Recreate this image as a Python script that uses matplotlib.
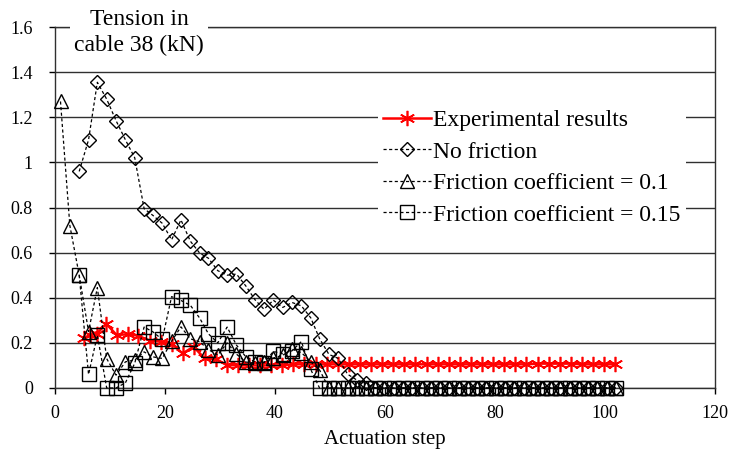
import matplotlib
matplotlib.use("Agg")
import matplotlib.pyplot as plt
from matplotlib.ticker import FuncFormatter

# ---- data ----
x_sim = [1.0, 2.7, 4.4, 6.1, 7.7, 9.4, 11.1, 12.8, 14.5, 16.2, 17.8, 19.5, 21.2, 22.9, 24.6,
         26.3, 27.9, 29.6, 31.3, 33.0, 34.7, 36.4, 38.0, 39.7, 41.4, 43.1, 44.8, 46.5, 48.1,
         49.8, 51.5, 53.2, 54.9, 56.6, 58.2, 59.9, 61.6, 63.3, 65.0, 66.7, 68.3, 70.0, 71.7,
         73.4, 75.1, 76.8, 78.4, 80.1, 81.8, 83.5, 85.2, 86.9, 88.5, 90.2, 91.9, 93.6, 95.3,
         97.0, 98.6, 100.3, 102.0]

no_friction = [0.96, 1.10, 1.355, 1.28, 1.185, 1.10, 1.02, 0.795, 0.765, 0.73, 0.657, 0.745,
               0.651, 0.598, 0.575, 0.52, 0.50, 0.505, 0.452, 0.39, 0.349, 0.389, 0.357, 0.379,
               0.364, 0.311, 0.219, 0.149, 0.131, 0.061, 0.035, 0.02,
               0.0, 0.0, 0.0, 0.0, 0.0, 0.0, 0.0, 0.0, 0.0, 0.0, 0.0, 0.0, 0.0, 0.0, 0.0,
               0.0, 0.0, 0.0, 0.0, 0.0, 0.0, 0.0, 0.0, 0.0, 0.0, 0.0, 0.0]  # from x_sim[2]

friction_01 = [1.27, 0.72, 0.50, 0.25, 0.445, 0.13, 0.057, 0.116, 0.124, 0.16, 0.138, 0.131,
               0.207, 0.271, 0.218, 0.205, 0.170, 0.146, 0.20, 0.15, 0.115, 0.11, 0.115, 0.133,
               0.145, 0.172, 0.157, 0.116, 0.08,
               0.0, 0.0, 0.0, 0.0, 0.0, 0.0, 0.0, 0.0, 0.0, 0.0, 0.0, 0.0, 0.0, 0.0, 0.0, 0.0,
               0.0, 0.0, 0.0, 0.0, 0.0, 0.0, 0.0, 0.0, 0.0, 0.0, 0.0, 0.0, 0.0, 0.0, 0.0, 0.0]  # from x_sim[0]

friction_015 = [0.50, 0.06, 0.234, 0.0, 0.0, 0.023, 0.11, 0.27, 0.249, 0.215, 0.405, 0.388,
                0.367, 0.31, 0.24, 0.20, 0.27, 0.19, 0.138, 0.115, 0.112, 0.162, 0.152, 0.165,
                0.206, 0.082,
                0.0, 0.0, 0.0, 0.0, 0.0, 0.0, 0.0, 0.0, 0.0, 0.0, 0.0, 0.0, 0.0, 0.0, 0.0, 0.0,
                0.0, 0.0, 0.0, 0.0, 0.0, 0.0, 0.0, 0.0, 0.0, 0.0, 0.0, 0.0, 0.0, 0.0, 0.0, 0.0,
                0.0]  # from x_sim[2]

x_exp = [5.2, 6.3, 7.6, 9.3, 11.2, 13.2, 15.1, 17.2, 19.3, 21.2, 23.2, 25.2, 27.2, 29.3, 31.2,
         33.2, 35.2, 37.3, 39.3, 41.3, 43.3, 45.3, 47.4, 49.4, 51.4, 53.4, 55.4, 57.5, 59.5,
         61.5, 63.5, 65.5, 67.6, 69.6, 71.6, 73.6, 75.6, 77.7, 79.7, 81.7, 83.7, 85.7, 87.8,
         89.8, 91.8, 93.8, 95.8, 97.9, 99.9, 101.9]
experimental = [0.22, 0.235, 0.24, 0.285, 0.235, 0.238, 0.232, 0.21, 0.205, 0.197, 0.153,
                0.183, 0.131, 0.128, 0.102,
                0.10, 0.10, 0.10, 0.10, 0.10, 0.105, 0.105, 0.105, 0.105, 0.105, 0.105, 0.105,
                0.105, 0.105, 0.105, 0.105, 0.105, 0.105, 0.105, 0.105, 0.105, 0.105, 0.105,
                0.105, 0.105, 0.105, 0.105, 0.108, 0.108, 0.108, 0.108, 0.105, 0.105, 0.105,
                0.105]

labels = ["Experimental results", "No friction", "Friction coefficient = 0.1",
          "Friction coefficient = 0.15"]
y_ticks = [0, 0.2, 0.4, 0.6, 0.8, 1.0, 1.2, 1.4, 1.6]
x_ticks = [0, 20, 40, 60, 80, 100, 120]

# ---- figure ----
plt.rcParams['font.family'] = ['Liberation Serif', 'DejaVu Serif']
W, H = 734, 458
fig = plt.figure(figsize=(W / 100, H / 100), dpi=100)
ax = fig.add_axes([55 / W, (H - 388) / H, (715 - 55) / W, (388 - 27) / H])

ast = (6, 2, 0)
ax.plot(x_exp, experimental, color='red', lw=1.8, marker=ast, ms=11, mew=1.2,
        label=labels[0], zorder=3, clip_on=False)
dash = (0, (2.5, 2))
ax.plot(x_sim[2:], no_friction, color='black', lw=0.9, linestyle=dash, marker='D', ms=7,
        mfc='none', mec='black', mew=1.0, label=labels[1], zorder=4, clip_on=False)
ax.plot(x_sim, friction_01, color='black', lw=0.9, linestyle=dash, marker='^', ms=10.5,
        mfc='none', mec='black', mew=1.0, label=labels[2], zorder=4, clip_on=False)
ax.plot(x_sim[2:], friction_015, color='black', lw=0.9, linestyle=dash, marker='s', ms=10.5,
        mfc='none', mec='black', mew=1.0, label=labels[3], zorder=4, clip_on=False)

ax.set_xlim(0, 120)
ax.set_ylim(0, 1.6)
ax.set_xticks(x_ticks)
ax.set_yticks(y_ticks)
ax.yaxis.set_major_formatter(FuncFormatter(lambda v, p: f"{v:g}"))
ax.tick_params(direction='out', length=4, width=1, labelsize=13, colors='black')
ax.tick_params(axis='y', pad=12)
ax.tick_params(axis='x', pad=8)
ax.yaxis.grid(True, color='#303030', lw=1.0)
ax.set_axisbelow(True)
for s in ax.spines.values():
    s.set_color('#303030')
    s.set_linewidth(1.0)

ax.set_xlabel("Actuation step", fontsize=15, labelpad=6)

fig.text(139 / W, 1 - 33 / H, "Tension in\ncable 38 (kN)", ha='center', va='center',
         fontsize=17, linespacing=1.3,
         bbox=dict(facecolor='white', edgecolor='none', pad=3), zorder=10)

leg = ax.legend(loc='upper left', bbox_to_anchor=(378 / W, 1 - 105 / H),
                bbox_transform=fig.transFigure, fontsize=17, frameon=True,
                facecolor='white', edgecolor='none', framealpha=1, fancybox=False,
                handlelength=2.05, handletextpad=0.1, labelspacing=0.42, borderpad=0.2,
                borderaxespad=0)
leg.set_zorder(6)

fig.savefig("out.png", dpi=100)
